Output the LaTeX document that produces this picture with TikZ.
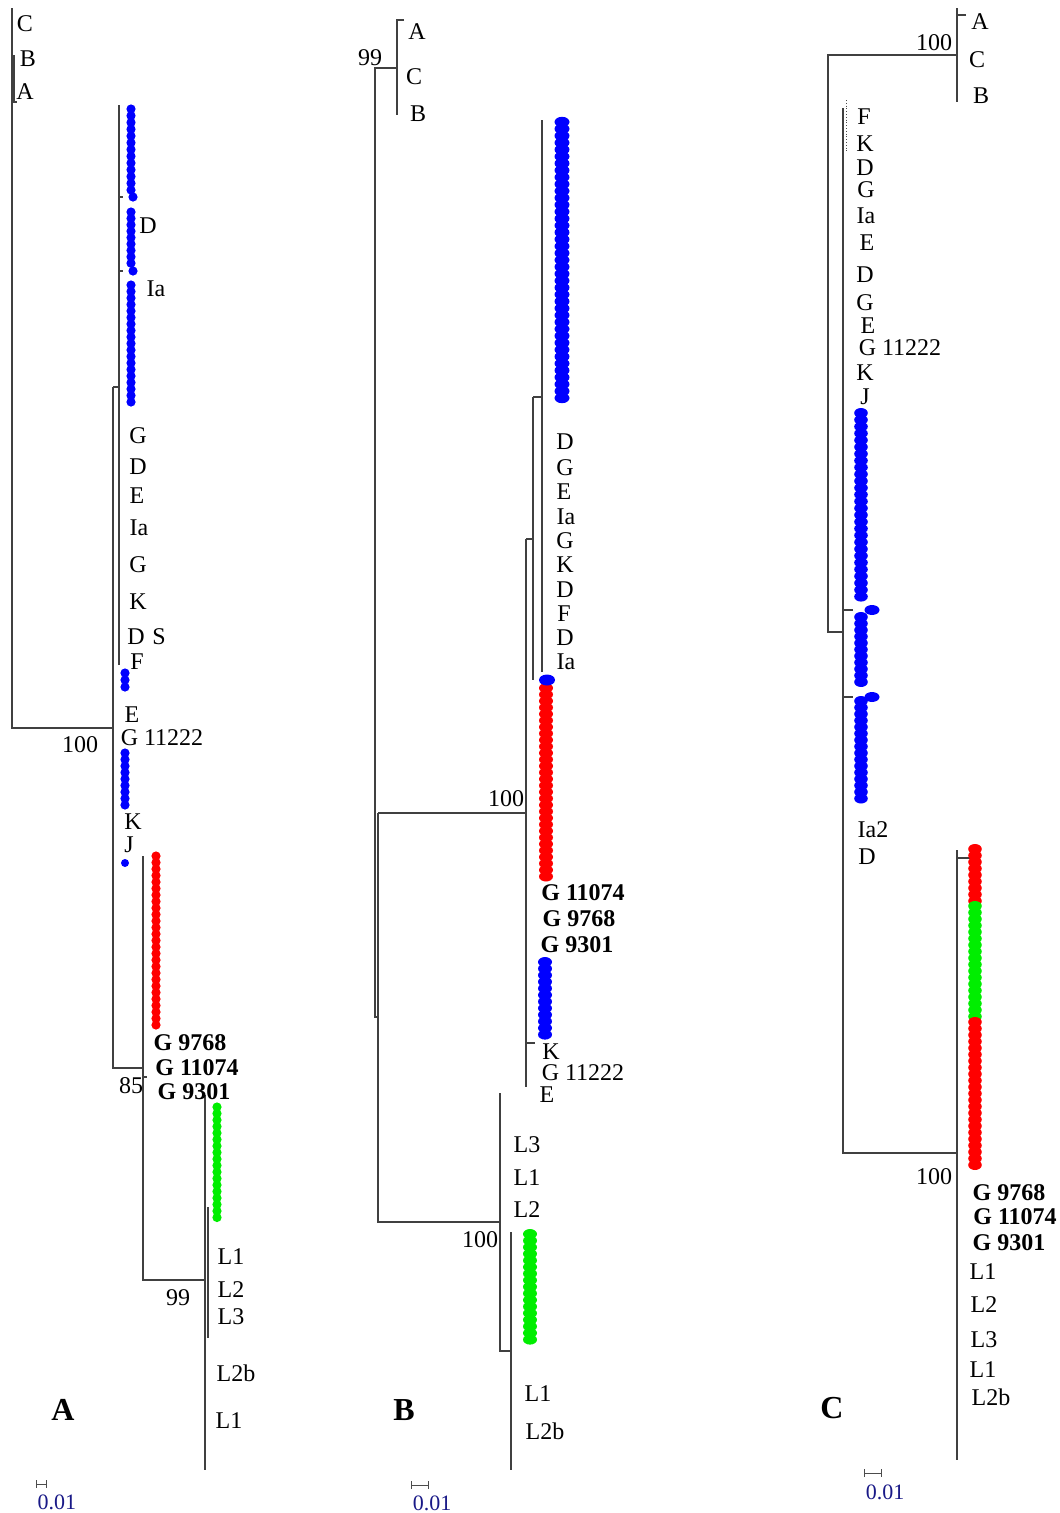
\documentclass[tikz,border=0pt]{standalone}
\usepackage{fontspec}
\setmainfont{Liberation Serif}
\usetikzlibrary{positioning}
\definecolor{dotblue}{RGB}{0,0,255}
\definecolor{dotred}{RGB}{255,0,0}
\definecolor{dotgreen}{RGB}{0,238,0}
\definecolor{scalenavy}{RGB}{25,25,135}

\begin{document}
\begin{tikzpicture}[
  x=1pt, y=-1pt,
  branch/.style={draw=black!75, line width=1.1pt},
  taxon/.style={font=\fontsize{24}{26}\selectfont, inner sep=0pt},
  strain/.style={font=\fontsize{24}{26}\selectfont\bfseries, inner sep=0pt},
  support/.style={font=\fontsize{24}{26}\selectfont, inner sep=0pt},
  panel/.style={font=\fontsize{32}{34}\selectfont\bfseries, inner sep=0pt},
  scalelbl/.style={font=\fontsize{22}{24}\selectfont, text=scalenavy, inner sep=0pt},
  scalebar/.style={draw=black!70, line width=0.8pt, |-|}
]
  \useasboundingbox (0,0) rectangle (1060,1513);

  % ---- panel A: branches
  \coordinate (aTop)   at (12,8);
  \coordinate (aRoot)  at (12,728);
  \coordinate (aN1)    at (113,728);
  \coordinate (aN1top) at (113,387);
  \coordinate (aN1bot) at (113,1068);
  \coordinate (aN2)    at (119,387);
  \coordinate (aN2top) at (119,105);
  \coordinate (aN2bot) at (119,665);
  \coordinate (aN3)    at (143,1068);
  \coordinate (aN3top) at (143,856);
  \coordinate (aN3bot) at (143,1280);
  \coordinate (aN4)    at (205,1280);
  \coordinate (aN4top) at (205,1095);
  \coordinate (aN4bot) at (205,1470);
  \draw[branch] (aTop) -- (aRoot) -- (aN1);
  \draw[branch] (aN1top) -- (aN1bot) -- (aN3);
  \draw[branch] (aN1top) -- (aN2);
  \draw[branch] (aN2top) -- (aN2bot);
  \draw[branch] (14,55) -- (14,102) -- (17,102);
  \draw[branch] (aN3top) -- (aN3bot) -- (aN4);
  \draw[branch] (aN4top) -- (aN4bot);
  \draw[branch] (119,197) -- (123,197);
  \draw[branch] (119,271) -- (123,271);
  \draw[branch] (143,1077) -- (147,1077);
  \draw[branch] (208,1207) -- (208,1338);

  % ---- panel A: dots
  \foreach \y in {109,115.75,...,191} \fill[dotblue] (131,\y) circle (4.6pt);
  \fill[dotblue] (133,197) circle (4.6pt);
  \foreach \y in {212,218.4,...,265} \fill[dotblue] (131,\y) circle (4.6pt);
  \fill[dotblue] (133,271) circle (4.6pt);
  \foreach \y in {285,291.5,...,404} \fill[dotblue] (131,\y) circle (4.6pt);
  \foreach \y in {673,680,687} \fill[dotblue] (125,\y) circle (4.6pt);
  \foreach \y in {753,759.5,...,806} \fill[dotblue] (125,\y) circle (4.6pt);
  \fill[dotblue] (125,863) circle (4pt);
  \foreach \y in {856,862.5,...,1025} \fill[dotred] (156,\y) circle (4.6pt);
  \foreach \y in {1107,1113.5,...,1218} \fill[dotgreen] (217,\y) circle (4.6pt);

  % ---- panel A: labels
  \node[taxon] (aC)  at (25,24)  {C};
  \node[taxon] (aB)  at (28,59)  {B};
  \node[taxon] (aA)  at (25,92)  {A};
  \node[taxon] (aD1) at (148,226) {D};
  \node[taxon] (aIa1) at (156,289) {Ia};
  \node[taxon] (aG1) at (138,436) {G};
  \node[taxon] (aD2) at (138,467) {D};
  \node[taxon] (aE1) at (137,496) {E};
  \node[taxon] (aIa2) at (139,528) {Ia};
  \node[taxon] (aG2) at (138,565) {G};
  \node[taxon] (aK1) at (138,602) {K};
  \node[taxon] (aD3) at (136,637) {D};
  \node[taxon] (aS)  at (159,637) {S};
  \node[taxon] (aF)  at (137,662) {F};
  \node[taxon] (aE2) at (132,715) {E};
  \node[taxon] (aG3) at (162,738) {G 11222};
  \node[taxon] (aK2) at (133,822) {K};
  \node[taxon] (aJ)  at (129,845) {J};
  \node[strain] (aS1) at (190,1043) {G 9768};
  \node[strain] (aS2) at (197,1068) {G 11074};
  \node[strain] (aS3) at (194,1092) {G 9301};
  \node[taxon] (aL1) at (231,1257) {L1};
  \node[taxon] (aL2) at (231,1290) {L2};
  \node[taxon] (aL3) at (231,1317) {L3};
  \node[taxon] (aL2b) at (236,1373) {L2b};
  \node[taxon] (aL1b) at (229,1421) {L1};
  \node[support] (aBs1) at (80,745)  {100};
  \node[support] (aBs2) at (131,1086) {85};
  \node[support] (aBs3) at (178,1298) {99};
  \node[panel] (aPanel) at (63,1410) {A};
  \node[scalelbl] (aScale) at (57,1502) {0.01};
  \coordinate (aBarL) at (36,1484);
  \coordinate (aBarR) at (47,1484);
  \draw[scalebar] (aBarL) -- (aBarR);

  % ---- panel B: branches
  \coordinate (bOut)    at (375,68);
  \coordinate (bOutN)   at (397,68);
  \coordinate (bOutTop) at (397,20);
  \coordinate (bOutBot) at (397,115);
  \coordinate (bRootBot) at (375,1017);
  \coordinate (bJ)      at (378,1017);
  \coordinate (bN1top)  at (378,813);
  \coordinate (bN1bot)  at (378,1222);
  \coordinate (bN2)     at (526,813);
  \coordinate (bN2top)  at (526,539);
  \coordinate (bN2bot)  at (526,1087);
  \coordinate (bN3)     at (533,539);
  \coordinate (bN3top)  at (533,397);
  \coordinate (bN3bot)  at (533,680);
  \coordinate (bN4)     at (542,397);
  \coordinate (bN4top)  at (542,120);
  \coordinate (bN4bot)  at (542,672);
  \coordinate (bN5)     at (500,1222);
  \coordinate (bN5top)  at (500,1093);
  \coordinate (bN5bot)  at (500,1351);
  \coordinate (bN6)     at (511,1351);
  \coordinate (bN6top)  at (511,1232);
  \coordinate (bN6bot)  at (511,1470);
  \draw[branch] (bOutN) -- (bOut) -- (bRootBot) -- (bJ);
  \draw[branch] (404,20) -- (bOutTop) -- (bOutBot);
  \draw[branch] (bN1top) -- (bN1bot) -- (bN5);
  \draw[branch] (bN1top) -- (bN2);
  \draw[branch] (bN2top) -- (bN2bot);
  \draw[branch] (bN2top) -- (bN3);
  \draw[branch] (bN3top) -- (bN3bot);
  \draw[branch] (bN3top) -- (bN4);
  \draw[branch] (bN4top) -- (bN4bot);
  \draw[branch] (527,1043) -- (535,1043);
  \draw[branch] (bN5top) -- (bN5bot) -- (bN6);
  \draw[branch] (bN6top) -- (bN6bot);

  % ---- panel B: dots
  \foreach \y in {122,128.9,...,399} \fill[dotblue] (562,\y) ellipse (7.5pt and 5.2pt);
  \foreach \y in {688,694.5,...,877} \fill[dotred] (546,\y) ellipse (7pt and 5pt);
  \fill[dotblue] (547,680) ellipse (8pt and 5.5pt);
  \foreach \y in {962,968.6,...,1037} \fill[dotblue] (545,\y) ellipse (7pt and 5pt);
  \foreach \y in {1234,1240.6,...,1342} \fill[dotgreen] (530,\y) ellipse (7pt and 5pt);

  % ---- panel B: labels
  \node[taxon] (bA)  at (417,32)  {A};
  \node[taxon] (bC)  at (414,77)  {C};
  \node[taxon] (bB)  at (418,114) {B};
  \node[taxon] (bD1) at (565,442) {D};
  \node[taxon] (bG1) at (565,468) {G};
  \node[taxon] (bE1) at (564,492) {E};
  \node[taxon] (bIa1) at (566,517) {Ia};
  \node[taxon] (bG2) at (565,541) {G};
  \node[taxon] (bK1) at (565,565) {K};
  \node[taxon] (bD2) at (565,590) {D};
  \node[taxon] (bF)  at (564,614) {F};
  \node[taxon] (bD3) at (565,638) {D};
  \node[taxon] (bIa2) at (566,662) {Ia};
  \node[strain] (bS1) at (583,893) {G 11074};
  \node[strain] (bS2) at (579,919) {G 9768};
  \node[strain] (bS3) at (577,945) {G 9301};
  \node[taxon] (bK2) at (551,1052) {K};
  \node[taxon] (bG3) at (583,1073) {G 11222};
  \node[taxon] (bE2) at (547,1095) {E};
  \node[taxon] (bL3) at (527,1145) {L3};
  \node[taxon] (bL1) at (527,1178) {L1};
  \node[taxon] (bL2) at (527,1210) {L2};
  \node[taxon] (bL1b) at (538,1394) {L1};
  \node[taxon] (bL2b) at (545,1431) {L2b};
  \node[support] (bBs1) at (370,58)  {99};
  \node[support] (bBs2) at (506,799) {100};
  \node[support] (bBs3) at (480,1240) {100};
  \node[panel] (bPanel) at (404,1410) {B};
  \node[scalelbl] (bScale) at (432,1503) {0.01};
  \coordinate (bBarL) at (411,1485);
  \coordinate (bBarR) at (429,1485);
  \draw[scalebar] (bBarL) -- (bBarR);

  % ---- panel C: branches
  \coordinate (cOut)    at (828,55);
  \coordinate (cOutN)   at (957,55);
  \coordinate (cOutTop) at (957,8);
  \coordinate (cOutBot) at (957,102);
  \coordinate (cRootBot) at (828,632);
  \coordinate (cJ)      at (843,632);
  \coordinate (cN1top)  at (843,108);
  \coordinate (cN1bot)  at (843,1153);
  \coordinate (cN2)     at (957,1153);
  \coordinate (cN2top)  at (957,850);
  \coordinate (cN2bot)  at (957,1460);
  \draw[branch] (cOutN) -- (cOut) -- (cRootBot) -- (cJ);
  \draw[branch] (966,15) -- (957,15);
  \draw[branch] (cOutTop) -- (cOutBot);
  \draw[branch] (cN1top) -- (cN1bot) -- (cN2);
  \draw[branch] (cN2top) -- (cN2bot);
  \draw[branch] (957,858) -- (970,858);
  \draw[branch] (843,610) -- (853,610);
  \draw[branch] (843,697) -- (853,697);
  \draw[black!70, line width=0.8pt, dotted] (846,100) -- (846,152);

  % ---- panel C: dots
  \foreach \y in {413,419.8,...,599} \fill[dotblue] (861,\y) ellipse (6.8pt and 5pt);
  \fill[dotblue] (872,610) ellipse (7.5pt and 5pt);
  \foreach \y in {617,623.5,...,684} \fill[dotblue] (861,\y) ellipse (6.8pt and 5pt);
  \fill[dotblue] (872,697) ellipse (7.5pt and 5pt);
  \foreach \y in {701,707.5,...,800} \fill[dotblue] (861,\y) ellipse (6.8pt and 5pt);
  \foreach \y in {849,855.5,...,901} \fill[dotred] (975,\y) ellipse (6.8pt and 5pt);
  \foreach \y in {906,912.5,...,1018} \fill[dotgreen] (975,\y) ellipse (6.8pt and 5pt);
  \foreach \y in {1022,1028.5,...,1170} \fill[dotred] (975,\y) ellipse (6.8pt and 5pt);

  % ---- panel C: labels
  \node[taxon] (cA)  at (980,22)  {A};
  \node[taxon] (cC)  at (977,60)  {C};
  \node[taxon] (cB)  at (981,96)  {B};
  \node[taxon] (cF)  at (864,117) {F};
  \node[taxon] (cK1) at (865,144) {K};
  \node[taxon] (cD1) at (865,168) {D};
  \node[taxon] (cG1) at (866,190) {G};
  \node[taxon] (cIa) at (866,216) {Ia};
  \node[taxon] (cE1) at (867,243) {E};
  \node[taxon] (cD2) at (865,275) {D};
  \node[taxon] (cG2) at (865,303) {G};
  \node[taxon] (cE2) at (868,326) {E};
  \node[taxon] (cG3) at (900,348) {G 11222};
  \node[taxon] (cK2) at (865,373) {K};
  \node[taxon] (cJ)  at (865,397) {J};
  \node[taxon] (cIa2) at (873,830) {Ia2};
  \node[taxon] (cD3) at (867,857) {D};
  \node[strain] (cS1) at (1009,1193) {G 9768};
  \node[strain] (cS2) at (1015,1217) {G 11074};
  \node[strain] (cS3) at (1009,1243) {G 9301};
  \node[taxon] (cL1) at (983,1272) {L1};
  \node[taxon] (cL2) at (984,1305) {L2};
  \node[taxon] (cL3) at (984,1340) {L3};
  \node[taxon] (cL1b) at (983,1370) {L1};
  \node[taxon] (cL2b) at (991,1397) {L2b};
  \node[support] (cBs1) at (934,43)   {100};
  \node[support] (cBs2) at (934,1177) {100};
  \node[panel] (cPanel) at (832,1408) {C};
  \node[scalelbl] (cScale) at (885,1492) {0.01};
  \coordinate (cBarL) at (864,1473);
  \coordinate (cBarR) at (882,1473);
  \draw[scalebar] (cBarL) -- (cBarR);
\end{tikzpicture}
\end{document}
